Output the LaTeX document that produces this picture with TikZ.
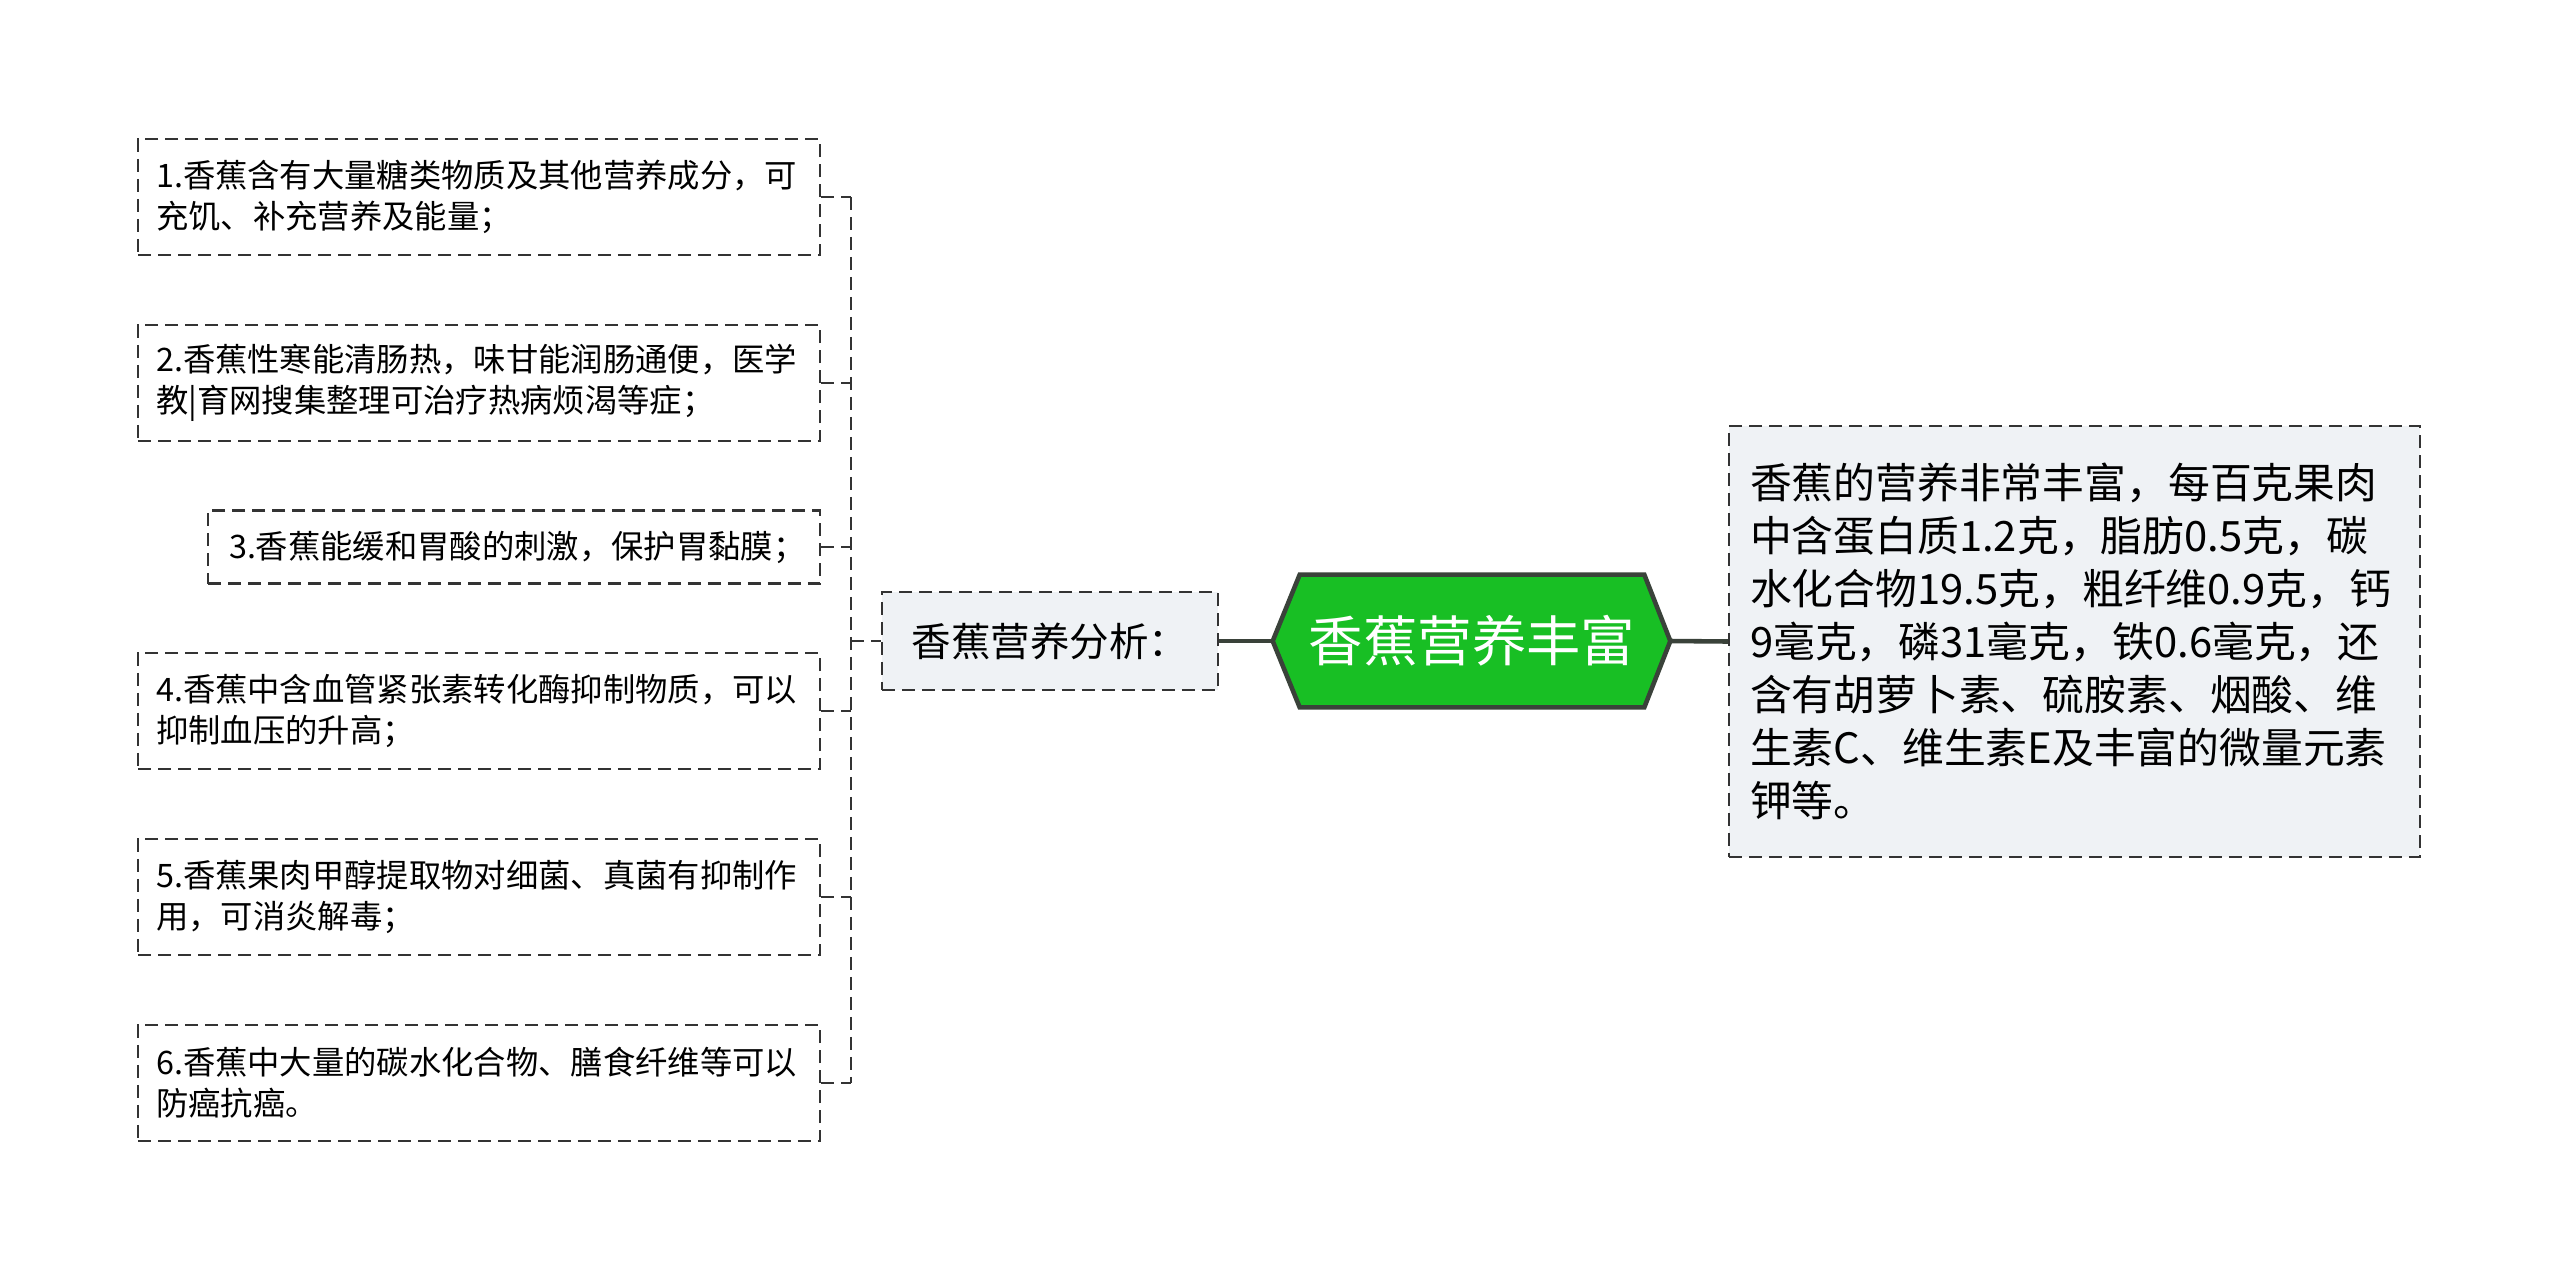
\documentclass[tikz,border=0pt]{standalone}
\usepackage{fontspec}
\setmainfont{Noto Sans CJK SC}
\usetikzlibrary{positioning,backgrounds}
\definecolor{rootcol}{RGB}{24,191,36}
\definecolor{rimcol} {RGB}{58,66,58}
\definecolor{boxfill}{RGB}{239,242,245}
\definecolor{dashcol}{RGB}{51,51,51}

\begin{document}
\begin{tikzpicture}[
  x=0.02cm,y=-0.02cm,
  dashbox/.style={rectangle,draw=dashcol,line width=1.2pt,
                  dash pattern=on 0.26cm off 0.14cm},
  lbox/.style={dashbox,fill=white,anchor=east,align=left,
               minimum height=2.32cm,text width=12.92cm,inner xsep=0.36cm,
               font=\fontsize{18.4}{23.4}\selectfont},
  sbox/.style={dashbox,fill=boxfill,minimum width=6.72cm,minimum height=1.96cm,
               font=\fontsize{22.5}{27}\selectfont},
  rootbox/.style={rectangle,minimum width=6.88cm,minimum height=2.64cm,
                  inner sep=0pt,text=white,font=\fontsize{31}{36}\selectfont},
  note/.style={dashbox,fill=boxfill,align=left,minimum height=8.62cm,
               text width=12.98cm,inner xsep=0.42cm,
               font=\fontsize{23.8}{30.2}\selectfont},
  lnk/.style={draw=dashcol,line width=1.2pt,dash pattern=on 0.26cm off 0.14cm},
  trunk/.style={draw=rimcol,line width=2.6pt}
]
\path[use as bounding box] (0,0) rectangle (2560,1282);
% left column
\node[lbox] (b1) at (821,197)
  {1.香蕉含有大量糖类物质及其他营养成分，可\\充饥、补充营养及能量；};
\node[lbox] (b2) at (821,383)
  {2.香蕉性寒能清肠热，味甘能润肠通便，医学\\教|育网搜集整理可治疗热病烦渴等症；};
\node[lbox,minimum height=1.46cm,text width=11.4cm,inner xsep=0.42cm] (b3) at (821,547)
  {3.香蕉能缓和胃酸的刺激，保护胃黏膜；};
\node[lbox] (b4) at (821,711)
  {4.香蕉中含血管紧张素转化酶抑制物质，可以\\抑制血压的升高；};
\node[lbox] (b5) at (821,897)
  {5.香蕉果肉甲醇提取物对细菌、真菌有抑制作\\用，可消炎解毒；};
\node[lbox] (b6) at (821,1083)
  {6.香蕉中大量的碳水化合物、膳食纤维等可以\\防癌抗癌。};
% middle
\node[sbox] (an) at (1050,641) {香蕉营养分析：};
\node[rootbox] (root) at (1472,641) {香蕉营养丰富};
\coordinate (tipL) at ([xshift=-0.54cm]root.west);
\coordinate (tipR) at ([xshift=0.52cm]root.east);
% right
\node[note] (nt) at (2074.5,641.5)
  {香蕉的营养非常丰富，每百克果肉\\中含蛋白质1.2克，脂肪0.5克，碳\\水化合物19.5克，粗纤维0.9克，钙\\9毫克，磷31毫克，铁0.6毫克，还\\含有胡萝卜素、硫胺素、烟酸、维\\生素C、维生素E及丰富的微量元素\\钾等。};
% connectors
\coordinate (jn) at (851,641);
\foreach \b in {b1,b2,b3,b4,b5,b6}
  \draw[lnk] (\b.east) -- (jn |- \b.east);
\draw[lnk] (jn |- b1.east) -- (jn |- b6.east);
\draw[lnk] (jn) -- (an.west);
\draw[trunk] (an.east) -- (tipL);
\draw[trunk] (tipR) -- (nt.west);
\begin{scope}[on background layer]
  \fill[white] (0,0) rectangle (2560,1282);
  \draw[trunk,fill=rootcol] (root.north west) -- (root.north east) -- (tipR)
    -- (root.south east) -- (root.south west) -- (tipL) -- cycle;
\end{scope}
\end{tikzpicture}
\end{document}
